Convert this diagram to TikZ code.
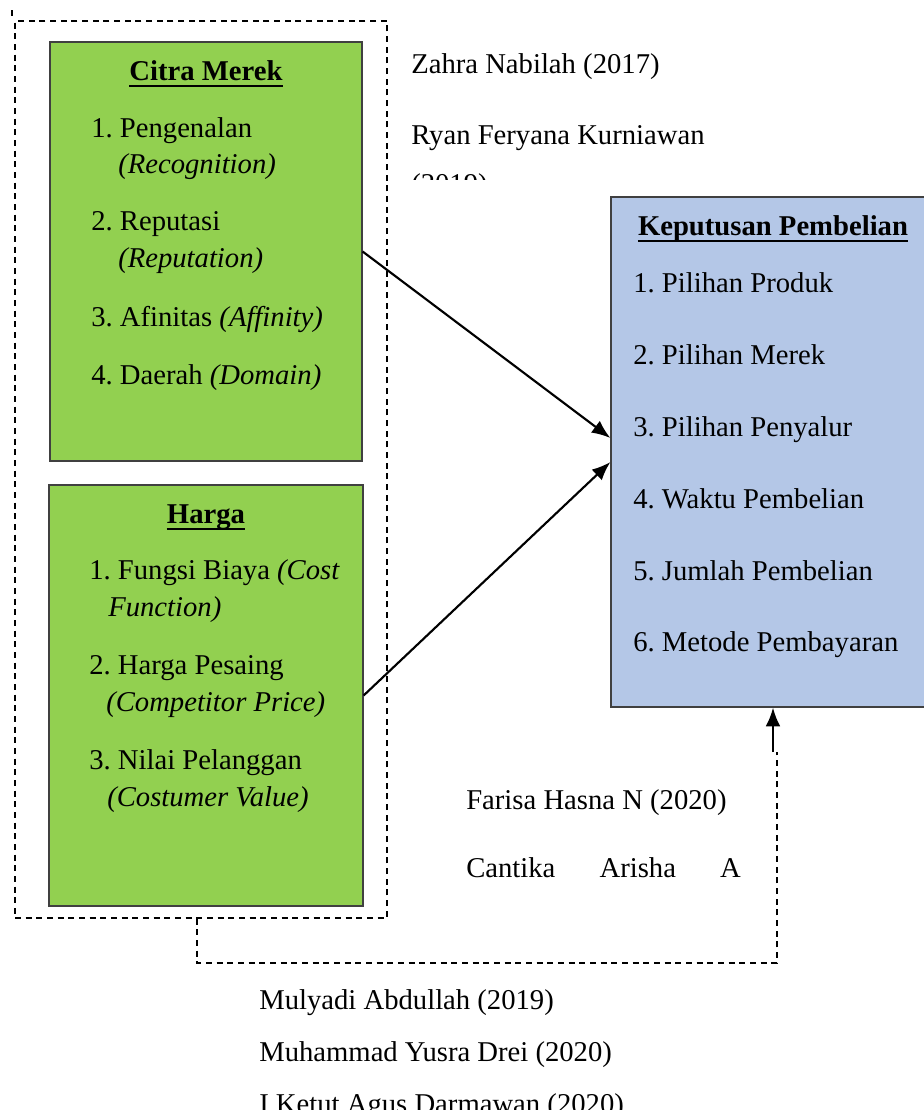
\documentclass[tikz,border=0pt]{standalone}
\usepackage{fontspec}
\setmainfont{Liberation Serif}
\usepackage{tikz}
\usetikzlibrary{arrows.meta}
\usepackage{xcolor}

\definecolor{hijau}{RGB}{146,208,80}
\definecolor{biru}{RGB}{180,199,231}

\begin{document}
\begin{tikzpicture}[>=Latex,x=0.75pt,y=-0.75pt,font=\fontsize{21.5}{26}\selectfont\frenchspacing,
  txt/.style={anchor=base west,inner sep=0pt},
  ttl/.style={anchor=base,inner sep=0pt,font=\fontsize{21.5}{26}\selectfont\bfseries},
  gbox/.style={draw=black!75,fill=hijau,line width=0.9pt,inner sep=0pt},
  bbox/.style={draw=black!75,fill=biru,line width=0.9pt,inner sep=0pt},
  dashbox/.style={draw=black,line width=1.1pt,dash pattern=on 4.5pt off 3.5pt},
  arr/.style={-{Latex[length=14pt,width=11pt]},line width=1.6pt},
  garis/.style={line width=1.8pt}]
\useasboundingbox (0,0) rectangle (924,1110);

% kelompok variabel bebas
\node[dashbox,minimum width=279pt,minimum height=672.75pt,inner sep=0pt] (grp) at (201,469.5) {};
\draw[dashbox] (12,10)--(12,16);

% kotak
\node[gbox,minimum width=234pt,minimum height=314.25pt] (cm) at (206,251.5) {};
\node[gbox,minimum width=235.5pt,minimum height=315.75pt] (hg) at (206,695.5) {};
\node[bbox,minimum width=243pt,minimum height=382.5pt] (kp) at (773,452) {};

% citra merek
\node[ttl] (cmt) at (206,80) {Citra Merek};
\draw[garis] ([yshift=-4.5pt]cmt.base west)--([yshift=-4.5pt]cmt.base east);
\node[txt] (cm1) at (91,137) {1. Pengenalan};
\node[txt] (cm1b) at (118,173) {\itshape(Recognition)};
\node[txt] (cm2) at (91,230) {2. Reputasi};
\node[txt] (cm2b) at (118,267) {\itshape(Reputation)};
\node[txt] (cm3) at (91,326) {3. Afinitas \textit{(Affinity)}};
\node[txt] (cm4) at (91,384) {4. Daerah \textit{(Domain)}};

% harga
\node[ttl] (hgt) at (206,523) {Harga};
\draw[garis] ([yshift=-4.5pt]hgt.base west)--([yshift=-4.5pt]hgt.base east);
\node[txt] (hg1) at (89,579) {1. Fungsi Biaya \textit{(Cost}};
\node[txt] (hg1b) at (108,616) {\itshape Function)};
\node[txt] (hg2) at (89,674) {2. Harga Pesaing};
\node[txt] (hg2b) at (106,711) {\itshape(Competitor Price)};
\node[txt] (hg3) at (89,769) {3. Nilai Pelanggan};
\node[txt] (hg3b) at (107,806) {\itshape(Costumer Value)};

% keputusan pembelian
\node[ttl] (kpt) at (773,235) {Keputusan Pembelian};
\draw[garis] ([yshift=-4.5pt]kpt.base west)--([yshift=-4.5pt]kpt.base east);
\foreach \n/\isi/\yb in {1/Pilihan Produk/292,2/Pilihan Merek/364,3/Pilihan Penyalur/436,
  4/Waktu Pembelian/508,5/Jumlah Pembelian/580,6/Metode Pembayaran/651}
  \node[txt] (kp\n) at (633,\yb) {\n. \isi};

% rujukan
\node[txt] (r1) at (411,73) {Zahra Nabilah (2017)};
\node[txt] (r2) at (411,144) {Ryan Feryana Kurniawan};
\begin{scope}
\clip (400,150) rectangle (600,179);
\node[txt] (r2b) at (411,193) {(2019)};
\end{scope}
\node[txt] (r3) at (466,809) {Farisa Hasna N (2020)};
\node[txt] (r4) at (466,877) {\makebox[206pt][s]{Cantika Arisha A}};
\node[txt] (r5) at (259,1009) {Mulyadi Abdullah (2019)};
\node[txt] (r6) at (259,1061) {Muhammad Yusra Drei (2020)};
\node[txt] (r7) at (259,1113) {I Ketut Agus Darmawan (2020)};

% panah
\draw[arr] (cm.east)--([yshift=10.5pt]kp.west);
\draw[arr] (hg.east)--([yshift=-7.5pt]kp.west);
\coordinate (lowr) at (777,963);
\coordinate (jn) at (777,752);
\draw[dashbox] ([xshift=-3pt]grp.south) |- (lowr)--(jn);
\draw[arr] (jn -| kp.south)--(kp.south);
\end{tikzpicture}
\end{document}
